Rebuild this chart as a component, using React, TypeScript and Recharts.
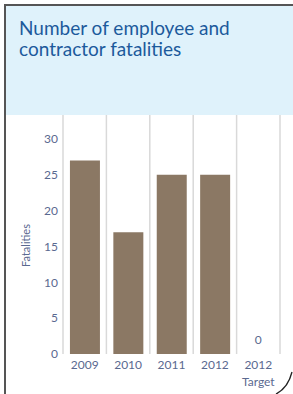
import { BarChart, Bar, XAxis, YAxis, CartesianGrid, ReferenceDot } from 'recharts';

const categories = ['2009', '2010', '2011', '2012', '2012\nTarget'];
const fatalities = [27, 17, 25, 25, 0];
const yTicks = [0, 5, 10, 15, 20, 25, 30];

const data = categories.map((name, i) => ({ name, value: fatalities[i] }));
const targetIdx = categories.length - 1;

const TEXT = '#5a6990';

function XTick({ x, y, payload }: any) {
  const lines = String(payload.value).split('\n');
  return (
    <text x={x} y={y + 7} textAnchor="middle" fill={TEXT} fontSize={12} fontFamily="Lato, sans-serif">
      {lines.map((l, i) => (
        <tspan key={i} x={x} dy={i === 0 ? 0 : 17}>{l}</tspan>
      ))}
    </text>
  );
}

function AxisTitle({ viewBox }: any) {
  const cx = viewBox.x + 25;
  const cy = viewBox.y + viewBox.height / 2 + 11;
  return (
    <text x={cx} y={cy} transform={`rotate(-90 ${cx} ${cy})`} textAnchor="middle" dominantBaseline="central"
      fill={TEXT} fontSize={11} fontFamily="Lato, sans-serif">
      Fatalities
    </text>
  );
}

// the zero target bar has no height, so its value is printed from a reference dot
function ZeroLabel({ viewBox }: any) {
  const x = viewBox.x + viewBox.width / 2;
  const y = viewBox.y + viewBox.height / 2;
  return (
    <text x={x} y={y - 10} textAnchor="middle" fill={TEXT} fontSize={12} fontFamily="Lato, sans-serif">
      {fatalities[targetIdx]}
    </text>
  );
}

// vertical rules sit on the category band edges, not the centres
const bandEdges = ({ offset }: any) => {
  const step = offset.width / categories.length;
  return categories.map((_, i) => offset.left + i * step).concat(offset.left + offset.width);
};

export default function App() {
  return (
    <div style={{ position: 'absolute', left: 0, top: 0, width: 293, height: 394, background: '#fff', overflow: 'hidden' }}>
      <div style={{ position: 'absolute', left: 5, top: 5, right: 0, height: 110, background: '#dff2fb' }} />
      <div style={{ position: 'absolute', left: 4, top: 4, width: 2, bottom: 0, background: '#555' }} />
      <div style={{ position: 'absolute', left: 4, top: 4, right: 0, height: 2, background: '#555' }} />
      <div style={{
        position: 'absolute', left: 19, top: 17, fontFamily: 'Lato, sans-serif', fontSize: 19,
        lineHeight: '21px', color: '#1c5a9c'
      }}>
        Number of employee and<br />contractor fatalities
      </div>
      <div style={{ position: 'absolute', left: 0, top: 0 }}>
        <BarChart width={293} height={394} data={data} margin={{ top: 115, right: 13, bottom: 0, left: 0 }} barCategoryGap="16%">
          <CartesianGrid horizontal={false} stroke="#d9d9d9" strokeWidth={1.5} verticalCoordinatesGenerator={bandEdges} />
          <XAxis dataKey="name" height={40} axisLine={false} tickLine={false} tick={<XTick />} interval={0} />
          <YAxis type="number" domain={[0, 33.35]} allowDataOverflow ticks={yTicks} width={63} axisLine={false} tickLine={false}
            tickSize={0} tickMargin={5} tick={{ fill: TEXT, fontSize: 12, fontFamily: 'Lato, sans-serif' }}
            label={<AxisTitle />} />
          <Bar dataKey="value" fill="#8b7864" isAnimationActive={false} />
          <ReferenceDot x={categories[targetIdx]} y={fatalities[targetIdx]} r={0.01} fill="none" stroke="none"
            ifOverflow="visible" label={<ZeroLabel />} />
        </BarChart>
      </div>
      <svg style={{ position: 'absolute', left: 0, top: 0 }} width={293} height={394}>
        <path d="M292,372 Q288,388 276,394" stroke="#222" strokeWidth={1.3} fill="none" />
      </svg>
    </div>
  );
}
